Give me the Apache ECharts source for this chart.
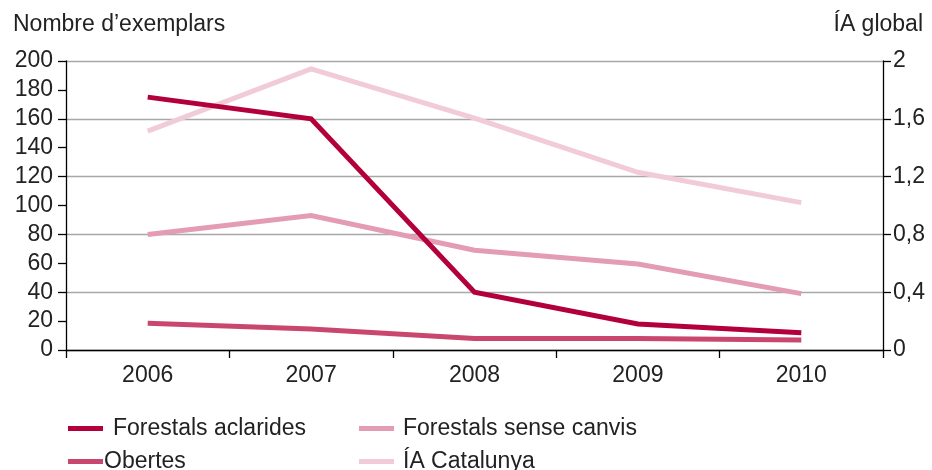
<!DOCTYPE html>
<html><head><meta charset="utf-8">
<script src="https://cdn.jsdelivr.net/npm/echarts@6/dist/echarts.min.js"></script>
<style>html,body{margin:0;padding:0;background:#fff}#c{width:932px;height:470px}</style>
</head><body><div id="c"></div>
<script>
const years = ['2006','2007','2008','2009','2010'];
const forestalsAclarides = [175, 160, 40, 18, 12];
const forestalsSenseCanvis = [80, 93, 69, 59.5, 39];
const obertes = [18.5, 14.5, 8, 8, 7];
const iaCatalunya = [1.515, 1.945, 1.605, 1.23, 1.02];
const leftTitle = 'Nombre d’exemplars';
const rightTitle = 'ÍA global';

const FONT = '"Liberation Sans", Arial, sans-serif';
const FS = 23;
const TXT = '#222';
const colors = ['#b3003a', '#e39cb3', '#c9476f', '#f1cbd7'];
const chart = echarts.init(document.getElementById('c'), null, {renderer: 'canvas'});
const mk = (name, data, color, yIdx) => ({
  name, type: 'line', data, yAxisIndex: yIdx, symbol: 'none', smooth: false,
  lineStyle: {color, width: 5, cap: 'butt', join: 'miter'}, itemStyle: {color},
  emphasis: {disabled: true}, animation: false
});
const leg = (name, left, top, gap) => ({
  data: [name], orient: 'horizontal', left, top, icon: 'rect', itemWidth: 35, itemHeight: 5,
  itemGap: 0, selectedMode: false,
  textStyle: {fontSize: FS, color: TXT, fontFamily: FONT, padding: [0, 0, 0, gap]}
});
chart.setOption({
  animation: false,
  textStyle: {fontFamily: FONT, color: TXT},
  title: [
    {text: leftTitle, left: 8, top: 8, textStyle: {fontFamily: FONT, fontSize: FS, fontWeight: 'normal', color: TXT}},
    {text: rightTitle, right: 4, top: 8, textStyle: {fontFamily: FONT, fontSize: FS, fontWeight: 'normal', color: TXT}}
  ],
  grid: {left: 66, right: 49, top: 61, bottom: 120, containLabel: false},
  xAxis: {
    type: 'category', data: years, boundaryGap: true,
    axisLine: {lineStyle: {color: '#000', width: 1.3}},
    axisTick: {show: true, length: 8, inside: false, lineStyle: {color: '#000', width: 1.3}},
    axisLabel: {fontSize: FS, color: TXT, fontFamily: FONT, margin: 14},
    splitLine: {show: false}
  },
  yAxis: [
    {
      type: 'value', min: 0, max: 200, interval: 20, position: 'left',
      axisLine: {show: true, lineStyle: {color: '#000', width: 1.3}},
      axisTick: {show: true, length: 8, lineStyle: {color: '#000', width: 1.3}},
      axisLabel: {fontSize: FS, color: TXT, fontFamily: FONT, margin: 13},
      splitLine: {show: false}
    },
    {
      type: 'value', min: 0, max: 2, interval: 0.4, position: 'right',
      axisLine: {show: true, lineStyle: {color: '#000', width: 1.3}},
      axisTick: {show: true, length: 8, lineStyle: {color: '#000', width: 1.3}},
      axisLabel: {fontSize: FS, color: TXT, fontFamily: FONT, margin: 10,
        formatter: v => String(Math.round(v * 10) / 10).replace('.', ',')},
      splitLine: {show: true, lineStyle: {color: '#a8a8a8', width: 1.3}}
    }
  ],
  legend: [
    leg('Forestals aclarides', 63, 412, 5),
    leg('Obertes', 63, 445, -4),
    leg('Forestals sense canvis', 354, 412, 4),
    leg('ÍA Catalunya', 354, 445, 4)
  ],
  series: [
    mk('ÍA Catalunya', iaCatalunya, colors[3], 1),
    mk('Forestals sense canvis', forestalsSenseCanvis, colors[1], 0),
    mk('Obertes', obertes, colors[2], 0),
    mk('Forestals aclarides', forestalsAclarides, colors[0], 0)
  ]
});
</script></body></html>
